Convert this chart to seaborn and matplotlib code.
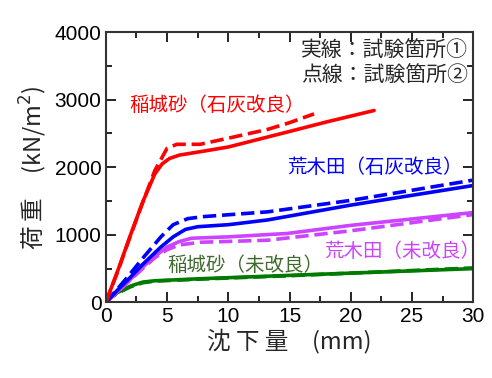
import numpy as np
import pandas as pd
import matplotlib
matplotlib.use("Agg")
import matplotlib.pyplot as plt
import seaborn as sns

# 沈下量 (mm) と 荷重 (kN/m2) の読み取り値
inagi_lime_x1 = [0, 1, 2, 3, 4, 4.6, 5.2, 6, 7.7, 10, 15, 18, 21.9]
inagi_lime_y1 = [0, 480, 990, 1480, 1900, 2050, 2130, 2180, 2230, 2300, 2530, 2670, 2840]
inagi_lime_x2 = [0, 1, 2, 3, 4, 5, 5.8, 7.7, 10.5, 13.2, 15, 17]
inagi_lime_y2 = [0, 470, 980, 1470, 1950, 2280, 2340, 2340, 2450, 2560, 2660, 2790]

araki_lime_x1 = [0, 1, 2, 3, 4.5, 5.5, 6.5, 7.5, 10, 13.2, 20, 30]
araki_lime_y1 = [0, 190, 370, 560, 820, 970, 1080, 1120, 1150, 1220, 1440, 1730]
araki_lime_x2 = [0, 1, 1.8, 3, 4.5, 5.5, 6.7, 8, 13.2, 20, 30]
araki_lime_y2 = [0, 210, 380, 650, 970, 1150, 1240, 1270, 1340, 1510, 1810]

araki_raw_x1 = [0, 1, 2, 3, 4, 5, 6, 7, 10, 14.8, 20, 30]
araki_raw_y1 = [0, 170, 340, 520, 680, 820, 900, 950, 970, 1020, 1140, 1330]
araki_raw_x2 = [0, 1, 2, 3, 4, 5, 6, 7.7, 13.2, 20, 30]
araki_raw_y2 = [0, 160, 330, 500, 660, 780, 850, 890, 920, 1060, 1300]

inagi_raw_x1 = [0, 0.5, 1, 2, 3, 4, 7.7, 15, 30]
inagi_raw_y1 = [0, 90, 150, 240, 300, 320, 350, 400, 500]
inagi_raw_x2 = [0, 0.5, 1, 2, 3, 4, 7.7, 15, 30]
inagi_raw_y2 = [0, 80, 140, 230, 290, 315, 345, 395, 510]

x_ticks = [0, 5, 10, 15, 20, 25, 30]
y_ticks = [0, 1000, 2000, 3000, 4000]

red = "#ff0000"
blue = "#0000ff"
magenta = "#cc44ff"
green = "#007a00"
label_green = "#3f6b2f"

sns.set_theme(style="ticks")
plt.rcParams["font.family"] = ["Liberation Sans", "Noto Sans CJK JP", "DejaVu Sans"]
plt.rcParams["xtick.direction"] = "in"
plt.rcParams["ytick.direction"] = "in"

series = [
    (inagi_raw_x1, inagi_raw_y1, green, "-"),
    (inagi_raw_x2, inagi_raw_y2, green, "--"),
    (araki_raw_x2, araki_raw_y2, magenta, "--"),
    (araki_raw_x1, araki_raw_y1, magenta, "-"),
    (araki_lime_x1, araki_lime_y1, blue, "-"),
    (araki_lime_x2, araki_lime_y2, blue, "--"),
    (inagi_lime_x1, inagi_lime_y1, red, "-"),
    (inagi_lime_x2, inagi_lime_y2, red, "--"),
]

fig, ax = plt.subplots(figsize=(4.92, 3.78), dpi=100)
fig.subplots_adjust(left=0.215, right=0.962, top=0.915, bottom=0.2)

for xs, ys, c, ls in series:
    df = pd.DataFrame({"x": xs, "y": ys})
    sns.lineplot(data=df, x="x", y="y", ax=ax, color=c, linestyle=ls,
                 linewidth=2.6, estimator=None, sort=False,
                 dashes=(4, 3) if ls == "--" else None)

ax.set_xlim(0, 30)
ax.set_ylim(0, 4000)
ax.set_xticks(x_ticks)
ax.set_yticks(y_ticks)
ax.set_xticks(np.arange(2.5, 30, 5), minor=True)
ax.set_yticks(np.arange(500, 4000, 1000), minor=True)
ax.tick_params(which="both", top=True, right=True, labelsize=15, colors="black",
               width=1.2, pad=3)
ax.tick_params(which="major", length=7)
ax.tick_params(which="minor", length=4)
for s in ax.spines.values():
    s.set_linewidth(1.5)
    s.set_color("#333333")

jp = ["Noto Sans CJK JP"]
ax.set_xlabel("沈 下 量　(mm)", fontsize=17, family=jp, labelpad=2)
ax.set_ylabel("荷 重　(kN/m$^2$)", fontsize=17, family=jp, labelpad=4)

ax.text(29.6, 3740, "実線：試験箇所①", ha="right", va="center", fontsize=15, family=jp)
ax.text(29.6, 3370, "点線：試験箇所②", ha="right", va="center", fontsize=15, family=jp)
ax.text(1.9, 2920, "稲城砂（石灰改良）", ha="left", va="center", fontsize=14, color=red, family=jp)
ax.text(14.8, 1990, "荒木田（石灰改良）", ha="left", va="center", fontsize=14, color=blue, family=jp)
ax.text(17.8, 760, "荒木田（未改良）", ha="left", va="center", fontsize=14, color=magenta, family=jp)
ax.text(5.0, 540, "稲城砂（未改良）", ha="left", va="center", fontsize=14, color=label_green, family=jp)

plt.savefig("out.png", dpi=100)
